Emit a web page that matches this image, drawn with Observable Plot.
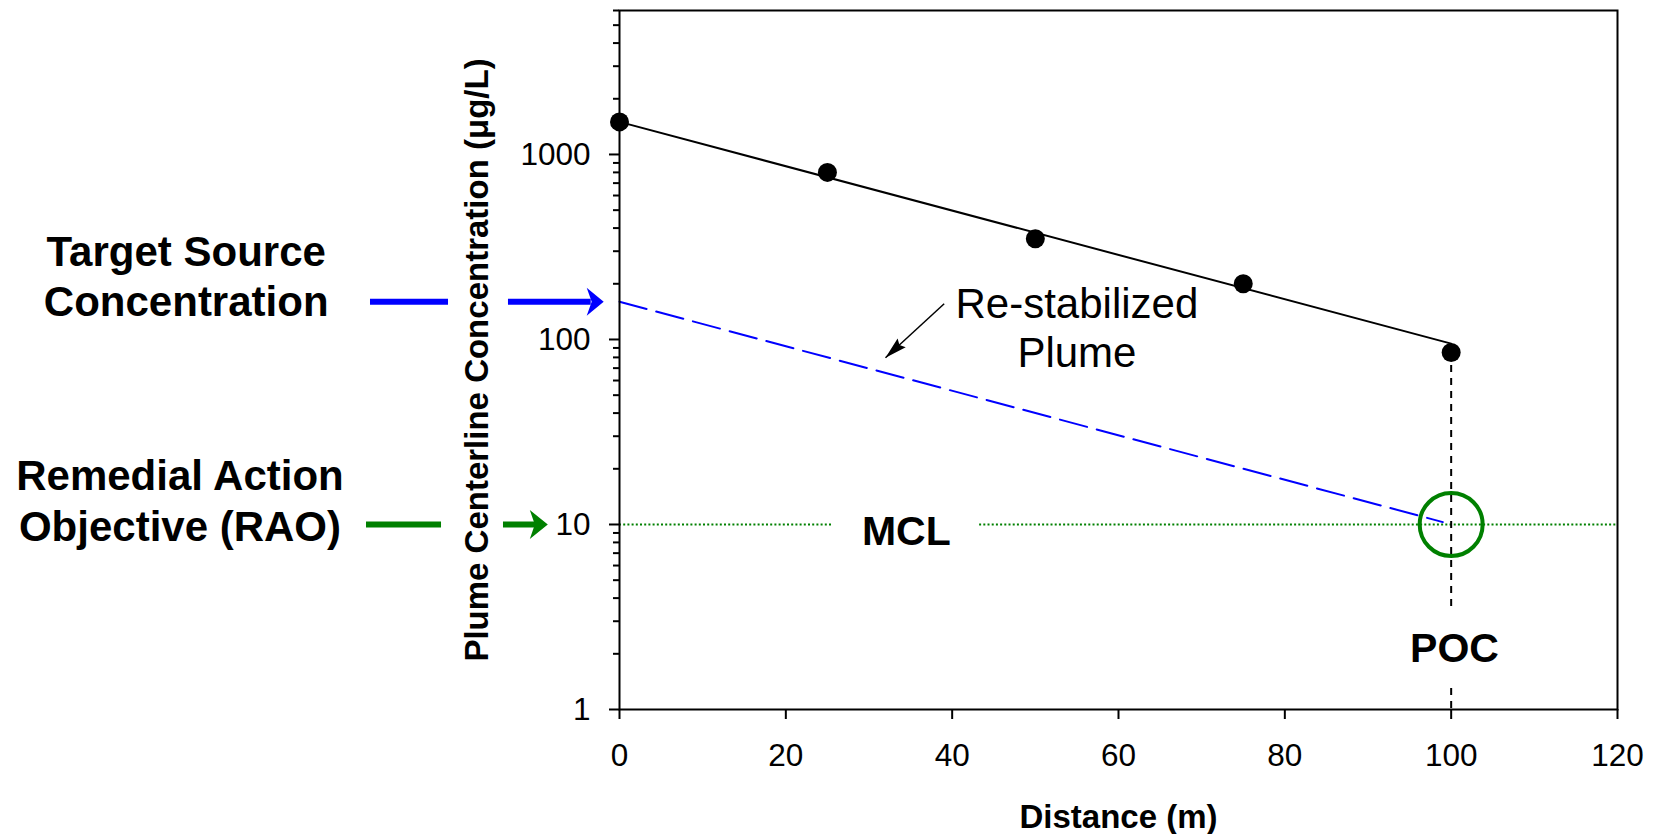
<!DOCTYPE html>
<html>
<head>
<meta charset="utf-8">
<script src="https://cdn.jsdelivr.net/npm/d3@7"></script>
<script src="https://cdn.jsdelivr.net/npm/@observablehq/plot@0.6"></script>
<style>
  html, body { margin: 0; padding: 0; background: #fff; overflow: hidden; }
</style>
</head>
<body>
<div id="chart"></div>
<script>
// ---- data ----
const distance = [0, 25, 50, 75, 100];
const concentration = [1500, 800, 350, 200, 85];

// fitted trend line through the observed points
const fitDistance = [0, 100];
const fitConcentration = [1500, 95];

const restabDistance = [0, 99];
const restabConcentration = [160, 10.3];

const mclValue = 10;
const mclFrom = [0, 43.3];
const mclTo = [25.6, 120];

const pocDistance = 100;
const pocFrom = [85, 1.3];
const pocTo = [3.57, 1];

const xTicks = [0, 20, 40, 60, 80, 100, 120];
const yMajorTicks = [1, 10, 100, 1000];
const yMinorTicks = [2, 3, 4, 5, 6, 7, 8, 9, 20, 30, 40, 50, 60, 70, 80, 90,
  200, 300, 400, 500, 600, 700, 800, 900, 2000, 3000, 4000, 5000, 6000];

// annotation anchors (data units: distance m, concentration µg/L)
const targetLabel = "Target Source\nConcentration";
const targetLabelAt = [-52.1, 133.9];
const targetArrowFrom = [-29.94, -13.35];
const targetArrowTo = [-20.56, -3.4];
const targetArrowTip = -1.9;
const targetLevel = 160;

const raoLabel = "Remedial Action\nObjective (RAO)";
const raoLabelAt = [-52.85, 8.19];
const raoArrowFrom = [-30.42, -13.95];
const raoArrowTo = [-21.4, -10.1];
const raoArrowTip = -8.62;
const raoLevel = 10;

const restabLabel = "Re-stabilized\nPlume";
const restabLabelAt = [55.0, 70.6];
const restabPointerStart = [39.04, 155.9];
const restabPointerTip = [31.98, 79.6];

const mclLabel = "MCL";
const mclLabelAt = [34.49, 7.77];
const pocLabel = "POC";
const pocLabelAt = [100.4, 1.817];

// ---- tables built from the arrays ----
const points = distance.map((d, i) => ({x: d, y: concentration[i]}));
const fit = fitDistance.map((d, i) => ({x: d, y: fitConcentration[i]}));
const restab = restabDistance.map((d, i) => ({x: d, y: restabConcentration[i]}));
const mclSegs = mclFrom.map((d, i) => ({x1: d, x2: mclTo[i], y: mclValue}));
const pocSegs = pocFrom.map((d, i) => ({y1: d, y2: pocTo[i], x: pocDistance}));
const targetSegs = targetArrowFrom.map((d, i) => ({x1: d, x2: targetArrowTo[i], y: targetLevel}));
const raoSegs = raoArrowFrom.map((d, i) => ({x1: d, x2: raoArrowTo[i], y: raoLevel}));

const W = 1660, H = 834;
const mL = 619, mR = 43, mT = 10, mB = 125;
const font = "Arial, 'Liberation Sans', Helvetica, sans-serif";

// scales mirroring Plot's, used only to orient the pointer head
const xs = d3.scaleLinear([0, 120], [mL, W - mR]);
const ys = d3.scaleLog([1, 6000], [H - mB, mT]);
const pointerAngle = Math.atan2(
  ys(restabPointerTip[1]) - ys(restabPointerStart[1]),
  xs(restabPointerTip[0]) - xs(restabPointerStart[0]));

function headSymbol(L, Hh, N, angle = 0) {
  const c = Math.cos(angle), s = Math.sin(angle);
  const p = (x, y) => [x * c - y * s, x * s + y * c];
  return {
    draw(ctx) {
      const a = p(-L, -Hh), b = p(-L + N, 0), d = p(-L, Hh);
      ctx.moveTo(0, 0);
      ctx.lineTo(a[0], a[1]);
      ctx.lineTo(b[0], b[1]);
      ctx.lineTo(d[0], d[1]);
      ctx.closePath();
    }
  };
}

const blue = "#0000ff", green = "#008000";

const chart = Plot.plot({
  width: W,
  height: H,
  marginLeft: mL,
  marginRight: mR,
  marginTop: mT,
  marginBottom: mB,
  style: {fontFamily: font, background: "#fff", overflow: "visible", color: "#000"},
  x: {domain: [0, 120], label: null},
  y: {type: "log", domain: [1, 6000], label: null},
  marks: [
    // MCL dotted line
    Plot.ruleY(mclSegs, {y: "y", x1: "x1", x2: "x2", stroke: green, strokeWidth: 1.8, strokeDasharray: "2,2.2"}),
    // re-stabilized plume
    Plot.line(restab, {x: "x", y: "y", stroke: blue, strokeWidth: 2, strokeDasharray: "28,10"}),
    // POC vertical dashed line
    Plot.ruleX(pocSegs, {x: "x", y1: "y1", y2: "y2", stroke: "#000", strokeWidth: 2, strokeDasharray: "7,6"}),
    // current plume: trend line and observations
    Plot.line(fit, {x: "x", y: "y", stroke: "#000", strokeWidth: 2}),
    Plot.dot(points, {x: "x", y: "y", r: 9.5, fill: "#000", stroke: "none"}),
    // circle at POC / MCL
    Plot.dot([{x: pocDistance, y: mclValue}], {x: "x", y: "y", r: 31.5, fill: "none", stroke: green, strokeWidth: 4}),

    // left annotation arrows
    Plot.ruleY(targetSegs, {y: "y", x1: "x1", x2: "x2", stroke: blue, strokeWidth: 6}),
    Plot.dot([{x: targetArrowTip, y: targetLevel}], {x: "x", y: "y", r: 10, symbol: headSymbol(17, 14, 5), fill: blue, stroke: "none"}),
    Plot.ruleY(raoSegs, {y: "y", x1: "x1", x2: "x2", stroke: green, strokeWidth: 6}),
    Plot.dot([{x: raoArrowTip, y: raoLevel}], {x: "x", y: "y", r: 10, symbol: headSymbol(18, 14.5, 5), fill: green, stroke: "none"}),

    // pointer to re-stabilized plume
    Plot.link([{x1: restabPointerStart[0], y1: restabPointerStart[1], x2: restabPointerTip[0], y2: restabPointerTip[1]}],
      {x1: "x1", y1: "y1", x2: "x2", y2: "y2", stroke: "#000", strokeWidth: 1.5}),
    Plot.dot([{x: restabPointerTip[0], y: restabPointerTip[1]}], {x: "x", y: "y", r: 10, symbol: headSymbol(22, 6, 3, pointerAngle), fill: "#000", stroke: "none"}),

    // texts
    Plot.text([targetLabel], {x: targetLabelAt[0], y: targetLabelAt[1], text: d => d, fontSize: 42, fontWeight: "bold", textAnchor: "middle", lineAnchor: "bottom", lineHeight: 1.2, fill: "#000"}),
    Plot.text([raoLabel], {x: raoLabelAt[0], y: raoLabelAt[1], text: d => d, fontSize: 42, fontWeight: "bold", textAnchor: "middle", lineAnchor: "bottom", lineHeight: 1.214, fill: "#000"}),
    Plot.text([restabLabel], {x: restabLabelAt[0], y: restabLabelAt[1], text: d => d, fontSize: 42, textAnchor: "middle", lineAnchor: "bottom", lineHeight: 1.186, fill: "#000"}),
    Plot.text([mclLabel], {x: mclLabelAt[0], y: mclLabelAt[1], text: d => d, fontSize: 41, fontWeight: "bold", textAnchor: "middle", lineAnchor: "bottom", fill: "#000"}),
    Plot.text([pocLabel], {x: pocLabelAt[0], y: pocLabelAt[1], text: d => d, fontSize: 41, fontWeight: "bold", textAnchor: "middle", lineAnchor: "bottom", fill: "#000"}),

    // axis titles
    Plot.text(["Distance (m)"], {frameAnchor: "bottom", dy: 118, text: d => d, fontSize: 33, fontWeight: "bold", textAnchor: "middle", lineAnchor: "bottom", fill: "#000"}),
    Plot.text(["Plume Centerline Concentration (\u03bcg/L)"], {frameAnchor: "left", dx: -132, rotate: -90, text: d => d, fontSize: 33, fontWeight: "bold", textAnchor: "middle", lineAnchor: "bottom", fill: "#000"}),

    // axes
    Plot.axisX(xTicks, {tickSize: 10, tickPadding: 24, fontSize: 31.5, strokeWidth: 2, label: null, tickFormat: d => String(d)}),
    Plot.axisY(yMajorTicks, {tickSize: 10, tickPadding: 19, fontSize: 31.5, strokeWidth: 2, label: null, tickFormat: d => String(d)}),
    Plot.axisY(yMinorTicks, {tickSize: 6, strokeWidth: 2, label: null, fill: "none", tickFormat: () => ""}),
    Plot.frame({stroke: "#000", strokeWidth: 2})
  ]
});

document.getElementById("chart").appendChild(chart);
</script>
</body>
</html>
